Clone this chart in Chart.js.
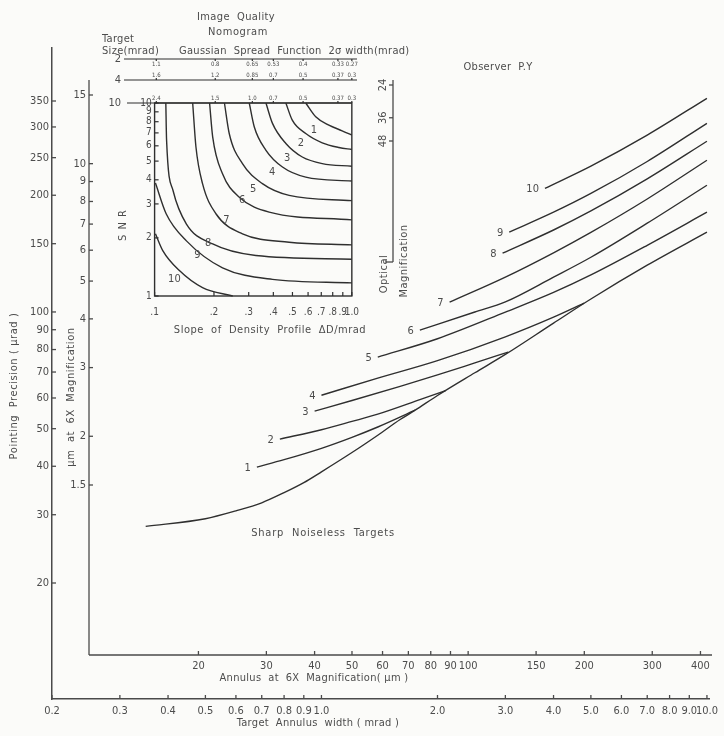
<!DOCTYPE html>
<html lang="en">
<head>
    <meta charset="UTF-8">
    <title>Pointing Precision and Target Annulus Width</title>
    <style>
        body {
            margin: 0;
            background-color: #fbfbf9;
        }
        #chart {
            display: block;
        }
    </style>
</head>
<body>
    <canvas id="chart" width="724" height="736"></canvas>

    <script src="https://cdn.jsdelivr.net/npm/chart.js"></script>
    <script>
// Outer axes: target annulus width (mrad) and pointing precision (µrad)
const widthTicks = [0.2, 0.3, 0.4, 0.5, 0.6, 0.7, 0.8, 0.9, 1.0, 2.0, 3.0, 4.0, 5.0, 6.0, 7.0, 8.0, 9.0, 10.0];
const widthTickLabels = ['0.2', '0.3', '0.4', '0.5', '0.6', '0.7', '0.8', '0.9', '1.0', '2.0', '3.0', '4.0', '5.0', '6.0', '7.0', '8.0', '9.0', '10.0'];
const precisionTicks = [20, 30, 40, 50, 60, 70, 80, 90, 100, 150, 200, 250, 300, 350];

// Inner axes: the same plane measured in µm at 6X magnification
const annulusUmTicks = [20, 30, 40, 50, 60, 70, 80, 90, 100, 150, 200, 300, 400];
const precisionUmTicks = [1.5, 2, 3, 4, 5, 6, 7, 8, 9, 10, 15];
const precisionUmLabels = ['1.5', '2', '3', '4', '5', '6', '7', '8', '9', '10', '15'];
const magnificationTicks = [24, 36, 48];

// Sharp noiseless targets (lower envelope)
const noiselessWidth = [0.35, 0.5, 0.6, 0.7, 0.8, 0.9, 1.0, 1.2, 1.4, 1.6, 1.75, 2.0, 2.5, 3.0, 4.0, 5.0, 7.0, 10.0];
const noiselessPrecision = [28.0, 29.3, 30.7, 32.2, 34.2, 36.3, 38.7, 43.4, 48.1, 52.8, 55.8, 60.9, 69.7, 77.7, 93.6, 108, 132, 160.6];

// Image quality curves 1..10 (observer P.Y)
const curveWidth = [
    [0.68, 0.8, 1.0, 1.2, 1.4, 1.75],
    [0.78, 1.0, 1.2, 1.4, 1.8, 2.1],
    [0.96, 1.2, 1.6, 2.0, 2.5, 3.05],
    [1.0, 1.4, 2.0, 3.0, 4.0, 4.8],
    [1.4, 2.0, 3.0, 4.0, 5.0, 7.0, 10.0],
    [1.8, 2.5, 3.0, 4.0, 5.0, 7.0, 10.0],
    [2.15, 3.0, 4.0, 5.0, 7.0, 10.0],
    [2.95, 4.0, 5.0, 7.0, 10.0],
    [3.07, 4.0, 5.0, 7.0, 10.0],
    [3.8, 5.0, 7.0, 10.0]
];
const curvePrecision = [
    [39.8, 41.6, 44.5, 47.5, 50.5, 55.8],
    [47.0, 49.7, 52.2, 54.5, 59.4, 62.7],
    [55.5, 59.1, 64.3, 68.8, 73.9, 78.8],
    [61.0, 67.5, 74.9, 86.3, 97.0, 105.4],
    [76.5, 85.3, 99.9, 112.3, 124.6, 148.6, 180.8],
    [89.8, 100, 106.2, 123, 138.4, 169.4, 212.2],
    [106, 123, 142.1, 160.4, 195.6, 246.2],
    [141.8, 162.7, 182.2, 220.4, 275.6],
    [160.6, 180.8, 202.1, 244.4, 306.6],
    [208.4, 237.8, 285.8, 355.7]
];

// Nomogram: slope of density profile (ΔD/mrad) vs SNR, quality lines 1..10
const slopeTicks = [0.1, 0.2, 0.3, 0.4, 0.5, 0.6, 0.7, 0.8, 0.9, 1.0];
const slopeTickLabels = ['.1', '.2', '.3', '.4', '.5', '.6', '.7', '.8', '.9', '1.0'];
const snrTicks = [1, 2, 3, 4, 5, 6, 7, 8, 9, 10];
const nomoSlope = [
    [0.584, 0.656, 0.765, 0.893, 1.0],
    [0.463, 0.499, 0.584, 0.708, 0.86, 1.0],
    [0.367, 0.396, 0.463, 0.561, 0.708, 1.0],
    [0.302, 0.320, 0.367, 0.445, 0.584, 1.0],
    [0.226, 0.239, 0.279, 0.352, 0.481, 1.0],
    [0.190, 0.197, 0.221, 0.269, 0.381, 1.0],
    [0.156, 0.162, 0.175, 0.205, 0.279, 0.481, 1.0],
    [0.114, 0.115, 0.124, 0.145, 0.197, 0.326, 1.0],
    [0.101, 0.1146, 0.145, 0.221, 0.396, 1.0],
    [0.101, 0.110, 0.134, 0.175, 0.249]
];
const nomoSnr = [
    [10, 8.49, 7.68, 7.18, 6.81],
    [10, 8.15, 6.95, 6.22, 5.88, 5.74],
    [10, 7.84, 6.17, 5.25, 4.85, 4.70],
    [10, 7.53, 5.69, 4.66, 4.13, 3.94],
    [10, 6.95, 4.85, 3.82, 3.32, 3.12],
    [10, 6.68, 4.30, 3.25, 2.72, 2.48],
    [10, 5.93, 3.82, 2.66, 2.10, 1.90, 1.84],
    [10, 6.42, 3.52, 2.36, 1.86, 1.62, 1.55],
    [3.85, 2.66, 1.93, 1.40, 1.22, 1.17],
    [2.10, 1.72, 1.35, 1.105, 1.0]
];
const nomoLabelSlope = [0.643, 0.552, 0.470, 0.394, 0.316, 0.278, 0.231, 0.187, 0.165, 0.126];
const nomoLabelSnr = [7.23, 6.19, 5.17, 4.37, 3.57, 3.12, 2.46, 1.89, 1.62, 1.23];

// Gaussian spread function 2σ width (mrad) for each target size
const targetSizes = ['2', '4', '10'];
const spreadSlope = [0.102, 0.203, 0.313, 0.4, 0.566, 0.85, 1.0];
const spreadWidths = [
    ['1.1', '0.8', '0.65', '0.53', '0.4', '0.33', '0.27'],
    ['1.6', '1.2', '0.85', '0.7', '0.5', '0.37', '0.3'],
    ['2.4', '1.5', '1.0', '0.7', '0.5', '0.37', '0.3']
];

const FONT = '"DejaVu Sans Condensed", "DejaVu Sans", sans-serif';
const INK = '#2f2f2f';
const AXIS = '#4a4a4a';
const LABEL = '#4c4c4c';

// plot frame in canvas pixels
const AREA = { left: 52, top: 48, right: 712, bottom: 699 };
const INNER = { x: 89, top: 80, y: 655 };
const ROW_Y = [59, 80];
const ROW_TEXT = [5, -5, -5];   // spread labels sit under the 2 mrad row, over the others
const MAG = { x: 393, top: 80, bottom: 262 };

// values a log axis through (v0,p0),(v1,p1) takes at pixels lo and hi
function logRange(v0, p0, v1, p1, lo, hi) {
    const k = Math.log10(v1 / v0) / (p1 - p0);
    return [v0 * Math.pow(10, (lo - p0) * k), v0 * Math.pow(10, (hi - p0) * k)];
}
const [xMin, xMax] = logRange(0.2, 52, 10, 709.5, AREA.left, AREA.right);
const [yMax, yMin] = logRange(20, 583, 350, 101, AREA.top, AREA.bottom);
const [umxMin, umxMax] = logRange(20, 199, 400, 703, AREA.left, AREA.right);
const [umyMax, umyMin] = logRange(1.5, 485, 15, 95, AREA.top, AREA.bottom);
const [magMin, magMax] = logRange(24, 85, 48, 141, AREA.top, AREA.bottom);
const [sMin, sMax] = logRange(0.1, 155, 1, 353, AREA.left, AREA.right);
const [snrMax, snrMin] = logRange(1, 296, 10, 103, AREA.top, AREA.bottom);

function seg(ctx, x1, y1, x2, y2) {
    ctx.beginPath();
    ctx.moveTo(x1, y1);
    ctx.lineTo(x2, y2);
    ctx.stroke();
}

function txt(ctx, str, x, y, size, align = 'center', rot = 0, spacing = 0) {
    ctx.save();
    ctx.font = size + 'px ' + FONT;
    ctx.textAlign = align;
    ctx.textBaseline = 'middle';
    ctx.letterSpacing = spacing + 'px';
    ctx.translate(x, y);
    if (rot) ctx.rotate(rot);
    ctx.fillText(str, 0, 0);
    ctx.restore();
}

const UP = -Math.PI / 2;

const decor = {
    id: 'decor',
    afterDraw(chart) {
        const { ctx, scales } = chart;
        const { x, y, xUm, yUm, yMag, xs, ys } = scales;
        ctx.save();
        ctx.strokeStyle = AXIS;
        ctx.fillStyle = LABEL;
        ctx.lineWidth = 1.3;

        // inward ticks on the outer axes
        widthTicks.forEach(v => {
            const px = x.getPixelForValue(v);
            seg(ctx, px, AREA.bottom, px, AREA.bottom - 4);
        });
        precisionTicks.forEach(v => {
            const py = y.getPixelForValue(v);
            seg(ctx, AREA.left, py, AREA.left + 4, py);
        });

        // inner µm axes
        seg(ctx, INNER.x, INNER.top, INNER.x, INNER.y);
        seg(ctx, INNER.x, INNER.y, AREA.right, INNER.y);
        precisionUmTicks.forEach((v, i) => {
            const py = yUm.getPixelForValue(v);
            seg(ctx, INNER.x, py, INNER.x + 4, py);
            txt(ctx, precisionUmLabels[i], INNER.x - 3, py, 11, 'right');
        });
        annulusUmTicks.forEach(v => {
            const px = xUm.getPixelForValue(v);
            seg(ctx, px, INNER.y, px, INNER.y - 4);
            txt(ctx, String(v), px, INNER.y + 11, 11);
        });

        // axis titles
        txt(ctx, 'Pointing  Precision ( µrad )', 14, 386, 11, 'center', UP, 0.6);
        txt(ctx, 'µm  at  6X  Magnification', 71, 397, 11, 'center', UP, 0.6);
        txt(ctx, 'Annulus  at  6X  Magnification( µm )', 314, 678, 11, 'center', 0, 0.3);
        txt(ctx, 'Target  Annulus  width ( mrad )', 318, 723, 11, 'center', 0, 0.3);

        // optical magnification scale
        seg(ctx, MAG.x, MAG.top, MAG.x, MAG.bottom);
        seg(ctx, MAG.x - 8, MAG.bottom, MAG.x, MAG.bottom);
        magnificationTicks.forEach(v => {
            const py = yMag.getPixelForValue(v);
            seg(ctx, MAG.x - 4, py, MAG.x, py);
            txt(ctx, String(v), MAG.x - 10, py, 11, 'center', UP);
        });
        txt(ctx, 'Optical', MAG.x - 9, 274, 11, 'center', UP, 0.5);
        txt(ctx, 'Magnification', MAG.x + 11, 261, 11, 'center', UP, 0.5);

        // curve numbers at the left end of each curve
        curveWidth.forEach((ws, k) => {
            const px = x.getPixelForValue(ws[0]);
            const py = y.getPixelForValue(curvePrecision[k][0]);
            txt(ctx, String(k + 1), px - 6, py + 1, 11, 'right');
        });
        txt(ctx, 'Sharp  Noiseless  Targets', 323, 533, 11, 'center', 0, 0.8);
        txt(ctx, 'Observer  P.Y', 498, 67, 11, 'center', 0, 0.3);

        // nomogram frame
        const bl = xs.getPixelForValue(0.1), br = xs.getPixelForValue(1.0);
        const bt = ys.getPixelForValue(10), bb = ys.getPixelForValue(1);
        ctx.strokeStyle = INK;
        ctx.lineWidth = 1.4;
        ctx.strokeRect(bl, bt, br - bl, bb - bt);
        ctx.lineWidth = 1.2;
        snrTicks.forEach(v => {
            const py = ys.getPixelForValue(v);
            seg(ctx, bl, py, bl + 4, py);
            txt(ctx, String(v), bl - 3, py, 10, 'right');
        });
        slopeTicks.forEach((v, i) => {
            const px = xs.getPixelForValue(v);
            seg(ctx, px, bb, px, bb - 4);
            txt(ctx, slopeTickLabels[i], px, bb + 16, 10);
        });
        txt(ctx, 'S N R', 123, 225, 11, 'center', UP, 1);
        txt(ctx, 'Slope  of  Density  Profile  ΔD/mrad', 270, 330, 11, 'center', 0, 0.5);
        nomoLabelSlope.forEach((s, i) => {
            txt(ctx, String(i + 1), xs.getPixelForValue(s), ys.getPixelForValue(nomoLabelSnr[i]), 11);
        });

        // target size rows with spread widths
        const rowsY = [ROW_Y[0], ROW_Y[1], bt];
        rowsY.forEach((ry, r) => {
            seg(ctx, r === 2 ? 127 : 124, ry, r === 2 ? br : 357, ry);
            txt(ctx, targetSizes[r], 121, ry, 11, 'right');
            spreadSlope.forEach((s, i) => {
                const px = xs.getPixelForValue(s);
                seg(ctx, px, ry, px, ry + Math.sign(ROW_TEXT[r]) * 2);
                txt(ctx, spreadWidths[r][i], px, ry + ROW_TEXT[r], 6);
            });
        });
        txt(ctx, 'Target', 102, 39, 11, 'left', 0, 0.3);
        txt(ctx, 'Size(mrad)', 102, 51, 11, 'left', 0, 0.3);
        txt(ctx, 'Gaussian  Spread  Function  2σ width(mrad)', 179, 51, 11, 'left', 0, 0.3);
        txt(ctx, 'Image  Quality', 236, 17, 11, 'center', 0, 0.4);
        txt(ctx, 'Nomogram', 238, 32, 11, 'center', 0, 0.6);
        ctx.restore();
    }
};

const lineStyle = {
    borderColor: INK,
    borderWidth: 1.4,
    pointRadius: 0,
    fill: false,
    cubicInterpolationMode: 'monotone'
};

const datasets = [{
    ...lineStyle,
    label: 'Sharp Noiseless Targets',
    data: noiselessWidth.map((w, i) => ({ x: w, y: noiselessPrecision[i] }))
}];
curveWidth.forEach((ws, k) => {
    datasets.push({
        ...lineStyle,
        label: 'Curve ' + (k + 1),
        data: ws.map((w, i) => ({ x: w, y: curvePrecision[k][i] }))
    });
});
nomoSlope.forEach((ss, k) => {
    datasets.push({
        ...lineStyle,
        label: 'SNR line ' + (k + 1),
        xAxisID: 'xs',
        yAxisID: 'ys',
        data: ss.map((s, i) => ({ x: s, y: nomoSnr[k][i] }))
    });
});

const tickFont = { family: FONT, size: 11 };

new Chart(document.getElementById('chart'), {
    type: 'line',
    data: { datasets: datasets },
    options: {
        responsive: false,
        animation: false,
        events: [],
        layout: { padding: { left: 0, top: AREA.top, right: 724 - AREA.right, bottom: 0 } },
        plugins: { legend: { display: false }, tooltip: { enabled: false } },
        scales: {
            x: {
                type: 'logarithmic',
                position: 'bottom',
                min: xMin,
                max: xMax,
                afterBuildTicks: s => { s.ticks = widthTicks.map(v => ({ value: v })); },
                afterFit: s => { s.height = 736 - AREA.bottom; },
                ticks: {
                    autoSkip: false, maxRotation: 0, minRotation: 0, padding: 6,
                    color: LABEL, font: tickFont,
                    callback: (v, i) => widthTickLabels[i]
                },
                grid: { display: false, drawTicks: false },
                border: { display: true, color: AXIS, width: 1.5 }
            },
            y: {
                type: 'logarithmic',
                position: 'left',
                min: yMin,
                max: yMax,
                afterBuildTicks: s => { s.ticks = precisionTicks.map(v => ({ value: v })); },
                afterFit: s => { s.width = AREA.left; },
                ticks: {
                    autoSkip: false, padding: 3,
                    color: LABEL, font: tickFont,
                    callback: (v, i) => String(precisionTicks[i])
                },
                grid: { display: false, drawTicks: false },
                border: { display: true, color: AXIS, width: 1.5 }
            },
            xUm: { type: 'logarithmic', display: false, min: umxMin, max: umxMax },
            yUm: { type: 'logarithmic', display: false, min: umyMin, max: umyMax },
            yMag: { type: 'logarithmic', display: false, reverse: true, min: magMin, max: magMax },
            xs: { type: 'logarithmic', display: false, min: sMin, max: sMax },
            ys: { type: 'logarithmic', display: false, min: snrMin, max: snrMax }
        }
    },
    plugins: [decor]
});
    </script>
</body>
</html>
